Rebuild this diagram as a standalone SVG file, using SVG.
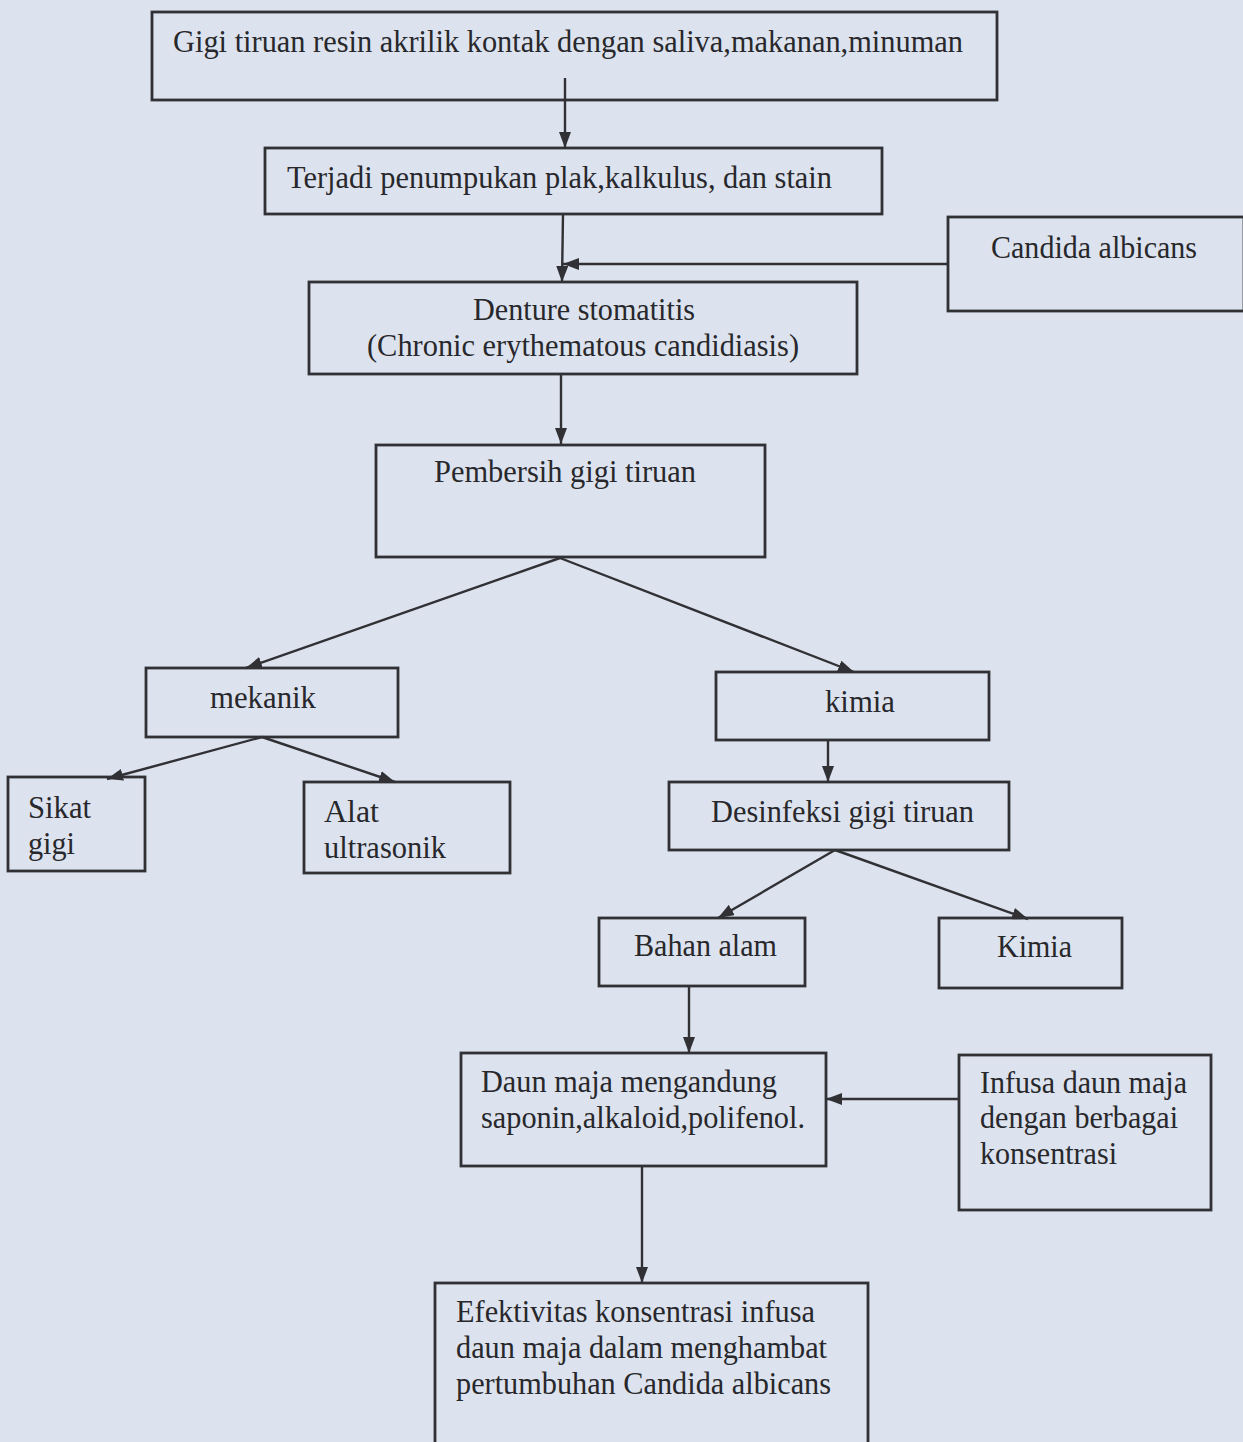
<svg xmlns="http://www.w3.org/2000/svg" width="1243" height="1442" viewBox="0 0 1243 1442">
<defs>
<style>
.box{fill:none;stroke:#303035;stroke-width:2.8}
.t{font-family:"Liberation Serif","Times New Roman","DejaVu Serif",serif;font-size:32px;fill:#28282c}
.c{fill:none;stroke:#303035;stroke-width:2.4}
</style>
<marker id="ah" markerUnits="userSpaceOnUse" markerWidth="16" markerHeight="12" refX="16" refY="6" orient="auto">
<path d="M0,0 L16,6 L0,12 Z" fill="#303035"/>
</marker>
</defs>
<rect x="0" y="0" width="1243" height="1442" fill="#dce3ee"/>

<g id="connectors">
<line class="c" x1="565" y1="78" x2="565" y2="148" marker-end="url(#ah)"/>
<line class="c" x1="563" y1="214" x2="562" y2="282" marker-end="url(#ah)"/>
<line class="c" x1="948" y1="264" x2="563" y2="264" marker-end="url(#ah)"/>
<line class="c" x1="561" y1="374" x2="561" y2="444" marker-end="url(#ah)"/>
<line class="c" x1="560" y1="558" x2="246" y2="668" marker-end="url(#ah)"/>
<line class="c" x1="560" y1="558" x2="854" y2="672" marker-end="url(#ah)"/>
<line class="c" x1="262" y1="737" x2="107" y2="779" marker-end="url(#ah)"/>
<line class="c" x1="262" y1="737" x2="395" y2="782" marker-end="url(#ah)"/>
<line class="c" x1="828" y1="740" x2="828" y2="782" marker-end="url(#ah)"/>
<line class="c" x1="835" y1="850" x2="718" y2="918" marker-end="url(#ah)"/>
<line class="c" x1="835" y1="850" x2="1028" y2="919" marker-end="url(#ah)"/>
<line class="c" x1="689" y1="986" x2="689" y2="1053" marker-end="url(#ah)"/>
<line class="c" x1="959" y1="1099" x2="826" y2="1099" marker-end="url(#ah)"/>
<line class="c" x1="642" y1="1166" x2="642" y2="1283" marker-end="url(#ah)"/>
</g>

<g id="n1"><rect class="box" x="152" y="12" width="845" height="88"/>
<text class="t" x="173" y="52" textLength="790" lengthAdjust="spacingAndGlyphs">Gigi tiruan resin akrilik kontak dengan saliva,makanan,minuman</text></g>

<g id="n2"><rect class="box" x="265" y="148" width="617" height="66"/>
<text class="t" x="287" y="188" textLength="545" lengthAdjust="spacingAndGlyphs">Terjadi penumpukan plak,kalkulus, dan stain</text></g>

<g id="n3"><rect class="box" x="948" y="217" width="296" height="94"/>
<text class="t" x="991" y="258" textLength="206" lengthAdjust="spacingAndGlyphs">Candida albicans</text></g>

<g id="n4"><rect class="box" x="309" y="282" width="548" height="92"/>
<text class="t" x="473" y="320" textLength="222" lengthAdjust="spacingAndGlyphs">Denture stomatitis</text>
<text class="t" x="367" y="356" textLength="432" lengthAdjust="spacingAndGlyphs">(Chronic erythematous candidiasis)</text></g>

<g id="n5"><rect class="box" x="376" y="445" width="389" height="112"/>
<text class="t" x="434" y="482" textLength="262" lengthAdjust="spacingAndGlyphs">Pembersih gigi tiruan</text></g>

<g id="n6"><rect class="box" x="146" y="668" width="252" height="69"/>
<text class="t" x="210" y="708" textLength="106" lengthAdjust="spacingAndGlyphs">mekanik</text></g>

<g id="n7"><rect class="box" x="716" y="672" width="273" height="68"/>
<text class="t" x="825" y="712" textLength="70" lengthAdjust="spacingAndGlyphs">kimia</text></g>

<g id="n8"><rect class="box" x="8" y="777" width="137" height="94"/>
<text class="t" x="28" y="818" textLength="63" lengthAdjust="spacingAndGlyphs">Sikat</text>
<text class="t" x="28" y="854" textLength="47" lengthAdjust="spacingAndGlyphs">gigi</text></g>

<g id="n9"><rect class="box" x="304" y="782" width="206" height="91"/>
<text class="t" x="324" y="822" textLength="55" lengthAdjust="spacingAndGlyphs">Alat</text>
<text class="t" x="324" y="858" textLength="122" lengthAdjust="spacingAndGlyphs">ultrasonik</text></g>

<g id="n10"><rect class="box" x="669" y="782" width="340" height="68"/>
<text class="t" x="711" y="822" textLength="263" lengthAdjust="spacingAndGlyphs">Desinfeksi gigi tiruan</text></g>

<g id="n11"><rect class="box" x="599" y="918" width="206" height="68"/>
<text class="t" x="634" y="956" textLength="143" lengthAdjust="spacingAndGlyphs">Bahan alam</text></g>

<g id="n12"><rect class="box" x="939" y="918" width="183" height="70"/>
<text class="t" x="997" y="957" textLength="75" lengthAdjust="spacingAndGlyphs">Kimia</text></g>

<g id="n13"><rect class="box" x="461" y="1053" width="365" height="113"/>
<text class="t" x="481" y="1092" textLength="296" lengthAdjust="spacingAndGlyphs">Daun maja mengandung</text>
<text class="t" x="481" y="1128" textLength="324" lengthAdjust="spacingAndGlyphs">saponin,alkaloid,polifenol.</text></g>

<g id="n14"><rect class="box" x="959" y="1055" width="252" height="155"/>
<text class="t" x="980" y="1093" textLength="207" lengthAdjust="spacingAndGlyphs">Infusa daun maja</text>
<text class="t" x="980" y="1128" textLength="198" lengthAdjust="spacingAndGlyphs">dengan berbagai</text>
<text class="t" x="980" y="1164" textLength="137" lengthAdjust="spacingAndGlyphs">konsentrasi</text></g>

<g id="n15"><rect class="box" x="435" y="1283" width="433" height="170"/>
<text class="t" x="456" y="1322" textLength="359" lengthAdjust="spacingAndGlyphs">Efektivitas konsentrasi infusa</text>
<text class="t" x="456" y="1358" textLength="371" lengthAdjust="spacingAndGlyphs">daun maja dalam menghambat</text>
<text class="t" x="456" y="1394" textLength="375" lengthAdjust="spacingAndGlyphs">pertumbuhan Candida albicans</text></g>
</svg>
